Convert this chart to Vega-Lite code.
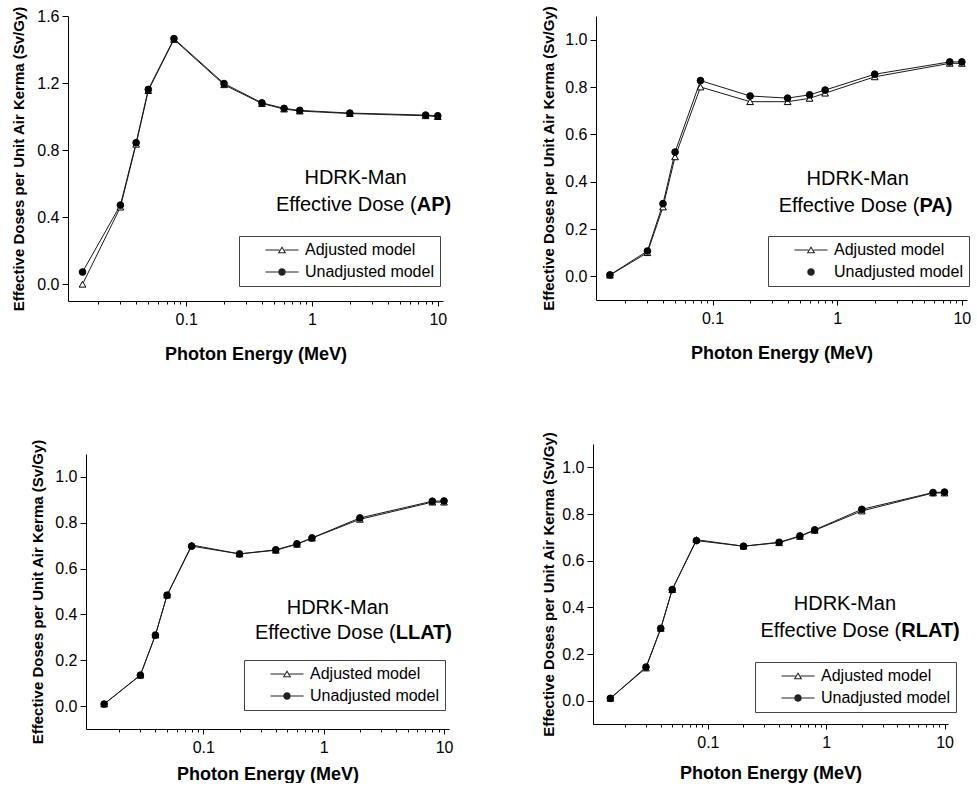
{
  "$schema": "https://vega.github.io/schema/vega-lite/v6.json",
  "padding": {"left": 11, "top": 5, "right": 0, "bottom": 0},
  "config": {
    "view": {"stroke": null},
    "font": "Liberation Sans",
    "axis": {"domainColor": "black", "tickColor": "black", "labelColor": "black", "titleColor": "black", "grid": false, "labelFont": "Liberation Sans", "titleFont": "Liberation Sans", "labelFontSize": 16, "domainWidth": 1, "tickWidth": 1},
    "legend": {"orient": "none", "title": null, "strokeColor": "#444", "padding": 6, "labelFontSize": 16, "labelFont": "Liberation Sans", "labelColor": "black", "symbolSize": 100, "symbolStrokeWidth": 0, "symbolOpacity": 1, "labelOffset": 15, "symbolOffset": 29, "rowPadding": 6},
    "text": {"font": "Liberation Sans", "color": "black"}
  },
  "datasets": {
    "ap": [
      {"energy": 0.015, "series": "Adjusted model", "dose": 0.0},
      {"energy": 0.03, "series": "Adjusted model", "dose": 0.46},
      {"energy": 0.04, "series": "Adjusted model", "dose": 0.835},
      {"energy": 0.05, "series": "Adjusted model", "dose": 1.155},
      {"energy": 0.08, "series": "Adjusted model", "dose": 1.46},
      {"energy": 0.2, "series": "Adjusted model", "dose": 1.19},
      {"energy": 0.4, "series": "Adjusted model", "dose": 1.078},
      {"energy": 0.6, "series": "Adjusted model", "dose": 1.045},
      {"energy": 0.8, "series": "Adjusted model", "dose": 1.033},
      {"energy": 2, "series": "Adjusted model", "dose": 1.018},
      {"energy": 8, "series": "Adjusted model", "dose": 1.005},
      {"energy": 10, "series": "Adjusted model", "dose": 1.0},
      {"energy": 0.015, "series": "Unadjusted model", "dose": 0.073},
      {"energy": 0.03, "series": "Unadjusted model", "dose": 0.472},
      {"energy": 0.04, "series": "Unadjusted model", "dose": 0.844},
      {"energy": 0.05, "series": "Unadjusted model", "dose": 1.162},
      {"energy": 0.08, "series": "Unadjusted model", "dose": 1.465},
      {"energy": 0.2, "series": "Unadjusted model", "dose": 1.197},
      {"energy": 0.4, "series": "Unadjusted model", "dose": 1.082},
      {"energy": 0.6, "series": "Unadjusted model", "dose": 1.049},
      {"energy": 0.8, "series": "Unadjusted model", "dose": 1.037},
      {"energy": 2, "series": "Unadjusted model", "dose": 1.021},
      {"energy": 8, "series": "Unadjusted model", "dose": 1.009},
      {"energy": 10, "series": "Unadjusted model", "dose": 1.005}
    ],
    "pa": [
      {"energy": 0.015, "series": "Adjusted model", "dose": 0.005},
      {"energy": 0.03, "series": "Adjusted model", "dose": 0.1},
      {"energy": 0.04, "series": "Adjusted model", "dose": 0.293},
      {"energy": 0.05, "series": "Adjusted model", "dose": 0.505},
      {"energy": 0.08, "series": "Adjusted model", "dose": 0.8},
      {"energy": 0.2, "series": "Adjusted model", "dose": 0.738},
      {"energy": 0.4, "series": "Adjusted model", "dose": 0.738},
      {"energy": 0.6, "series": "Adjusted model", "dose": 0.752},
      {"energy": 0.8, "series": "Adjusted model", "dose": 0.774},
      {"energy": 2, "series": "Adjusted model", "dose": 0.843},
      {"energy": 8, "series": "Adjusted model", "dose": 0.9},
      {"energy": 10, "series": "Adjusted model", "dose": 0.9},
      {"energy": 0.015, "series": "Unadjusted model", "dose": 0.006},
      {"energy": 0.03, "series": "Unadjusted model", "dose": 0.107},
      {"energy": 0.04, "series": "Unadjusted model", "dose": 0.307},
      {"energy": 0.05, "series": "Unadjusted model", "dose": 0.525},
      {"energy": 0.08, "series": "Unadjusted model", "dose": 0.827},
      {"energy": 0.2, "series": "Unadjusted model", "dose": 0.762},
      {"energy": 0.4, "series": "Unadjusted model", "dose": 0.753},
      {"energy": 0.6, "series": "Unadjusted model", "dose": 0.767},
      {"energy": 0.8, "series": "Unadjusted model", "dose": 0.787},
      {"energy": 2, "series": "Unadjusted model", "dose": 0.854},
      {"energy": 8, "series": "Unadjusted model", "dose": 0.906},
      {"energy": 10, "series": "Unadjusted model", "dose": 0.906}
    ],
    "llat": [
      {"energy": 0.015, "series": "Adjusted model", "dose": 0.009},
      {"energy": 0.03, "series": "Adjusted model", "dose": 0.135},
      {"energy": 0.04, "series": "Adjusted model", "dose": 0.31},
      {"energy": 0.05, "series": "Adjusted model", "dose": 0.484},
      {"energy": 0.08, "series": "Adjusted model", "dose": 0.703},
      {"energy": 0.2, "series": "Adjusted model", "dose": 0.664},
      {"energy": 0.4, "series": "Adjusted model", "dose": 0.68},
      {"energy": 0.6, "series": "Adjusted model", "dose": 0.706},
      {"energy": 0.8, "series": "Adjusted model", "dose": 0.733},
      {"energy": 2, "series": "Adjusted model", "dose": 0.815},
      {"energy": 8, "series": "Adjusted model", "dose": 0.89},
      {"energy": 10, "series": "Adjusted model", "dose": 0.89},
      {"energy": 0.015, "series": "Unadjusted model", "dose": 0.009},
      {"energy": 0.03, "series": "Unadjusted model", "dose": 0.135},
      {"energy": 0.04, "series": "Unadjusted model", "dose": 0.31},
      {"energy": 0.05, "series": "Unadjusted model", "dose": 0.484},
      {"energy": 0.08, "series": "Unadjusted model", "dose": 0.698},
      {"energy": 0.2, "series": "Unadjusted model", "dose": 0.664},
      {"energy": 0.4, "series": "Unadjusted model", "dose": 0.682},
      {"energy": 0.6, "series": "Unadjusted model", "dose": 0.708},
      {"energy": 0.8, "series": "Unadjusted model", "dose": 0.734},
      {"energy": 2, "series": "Unadjusted model", "dose": 0.821},
      {"energy": 8, "series": "Unadjusted model", "dose": 0.894},
      {"energy": 10, "series": "Unadjusted model", "dose": 0.895}
    ],
    "rlat": [
      {"energy": 0.015, "series": "Adjusted model", "dose": 0.01},
      {"energy": 0.03, "series": "Adjusted model", "dose": 0.14},
      {"energy": 0.04, "series": "Adjusted model", "dose": 0.31},
      {"energy": 0.05, "series": "Adjusted model", "dose": 0.476},
      {"energy": 0.08, "series": "Adjusted model", "dose": 0.69},
      {"energy": 0.2, "series": "Adjusted model", "dose": 0.662},
      {"energy": 0.4, "series": "Adjusted model", "dose": 0.677},
      {"energy": 0.6, "series": "Adjusted model", "dose": 0.704},
      {"energy": 0.8, "series": "Adjusted model", "dose": 0.73},
      {"energy": 2, "series": "Adjusted model", "dose": 0.813},
      {"energy": 8, "series": "Adjusted model", "dose": 0.89},
      {"energy": 10, "series": "Adjusted model", "dose": 0.89},
      {"energy": 0.015, "series": "Unadjusted model", "dose": 0.01},
      {"energy": 0.03, "series": "Unadjusted model", "dose": 0.144},
      {"energy": 0.04, "series": "Unadjusted model", "dose": 0.31},
      {"energy": 0.05, "series": "Unadjusted model", "dose": 0.476},
      {"energy": 0.08, "series": "Unadjusted model", "dose": 0.686},
      {"energy": 0.2, "series": "Unadjusted model", "dose": 0.662},
      {"energy": 0.4, "series": "Unadjusted model", "dose": 0.679},
      {"energy": 0.6, "series": "Unadjusted model", "dose": 0.706},
      {"energy": 0.8, "series": "Unadjusted model", "dose": 0.732},
      {"energy": 2, "series": "Unadjusted model", "dose": 0.82},
      {"energy": 8, "series": "Unadjusted model", "dose": 0.892},
      {"energy": 10, "series": "Unadjusted model", "dose": 0.894}
    ]
  },
  "resolve": {"scale": {"shape": "independent", "fill": "independent"}, "legend": {"shape": "independent", "fill": "independent"}},
  "columns": 2,
  "align": {"row": "each", "column": "none"},
  "spacing": {"row": 68, "column": 80},
  "concat": [
    {
      "width": 375, "height": 285,
      "data": {"name": "ap"},
      "resolve": {"scale": {"shape": "independent"}, "legend": {"shape": "independent"}},
      "layer": [
        {"mark": {"type": "line", "stroke": "#1a1a1a", "strokeWidth": 1},
         "encoding": {
           "x": {"field": "energy", "type": "quantitative", "scale": {"type": "log", "domain": [0.0115, 11], "nice": false},
             "axis": {"title": "Photon Energy (MeV)", "titleFontSize": 18, "titleFontWeight": "bold", "titlePadding": 18, "labelPadding": 5, "labelFlush": false, "labelOverlap": false,
               "values": [0.02,0.03,0.04,0.05,0.06,0.07,0.08,0.09,0.1,0.2,0.3,0.4,0.5,0.6,0.7,0.8,0.9,1,2,3,4,5,6,7,8,9,10],
               "labelExpr": "datum.value==0.1 ? '0.1' : datum.value==1 ? '1' : datum.value==10 ? '10' : ''",
               "tickSize": {"condition": {"test": "datum.value==0.1||datum.value==1||datum.value==10", "value": 5}, "value": 3}}},
           "y": {"field": "dose", "type": "quantitative", "scale": {"domain": [-0.1, 1.6], "nice": false, "zero": false},
             "axis": {"title": "Effective Doses per Unit Air Kerma (Sv/Gy)", "titleFontSize": 15, "titleFontWeight": "bold", "titlePadding": 10, "labelPadding": 3, "labelOverlap": false,
               "values": [0,0.1,0.2,0.3,0.4,0.5,0.6,0.7,0.8,0.9,1.0,1.1,1.2,1.3,1.4,1.5,1.6],
               "labelExpr": "round(datum.value*10)%2==0 ? format(datum.value,'.1f') : ''",
               "tickSize": {"condition": {"test": "round(datum.value*10)%2==0", "value": 6}, "value": 3}}},
           "detail": {"field": "series"}}},
        {"mark": {"type": "point", "filled": true, "size": 45, "stroke": "black", "strokeWidth": 1, "opacity": 1},
         "encoding": {
           "x": {"field": "energy", "type": "quantitative"},
           "y": {"field": "dose", "type": "quantitative"},
           "shape": {"field": "series", "type": "nominal", "scale": {"domain": ["Adjusted model", "Unadjusted model"], "range": ["triangle-up", "circle"]}, "legend": null},
           "fill": {"field": "series", "type": "nominal", "scale": {"domain": ["Adjusted model", "Unadjusted model"], "range": ["white", "black"]}, "legend": null}}},
        {"mark": {"type": "point", "filled": true, "size": 100, "color": "#222", "opacity": 0},
         "encoding": {
           "x": {"field": "energy", "type": "quantitative"},
           "y": {"field": "dose", "type": "quantitative"},
           "shape": {"field": "series", "type": "nominal", "scale": {"domain": ["Adjusted model", "Unadjusted model"], "range": [
             "M-3.3,-0.1H-0.5V0.1H-3.3Z M0.5,-0.1H3.3V0.1H0.5Z M0,-0.75L0.85,0.65L-0.85,0.65Z M0,-0.365L-0.495,0.45L0.495,0.45Z",
             "M-3.3,-0.1H-0.72V0.1H-3.3Z M0.72,-0.1H3.3V0.1H0.72Z M-0.75,0A0.75,0.75 0 1,0 0.75,0A0.75,0.75 0 1,0 -0.75,0Z"]},
             "legend": {"legendX": 171, "legendY": 220}}}},
        {"data": {"values": [{"label": "HDRK-Man"}]},
         "mark": {"type": "text", "fontSize": 20, "align": "center", "baseline": "alphabetic"},
         "encoding": {"x": {"datum": 2.22, "type": "quantitative"}, "y": {"datum": 0.597, "type": "quantitative"}, "text": {"field": "label"}}},
        {"data": {"values": [{"label": "Effective Dose ("}]},
         "mark": {"type": "text", "fontSize": 20, "align": "right", "baseline": "alphabetic"},
         "encoding": {"x": {"datum": 6.8, "type": "quantitative"}, "y": {"datum": 0.436, "type": "quantitative"}, "text": {"field": "label"}}},
        {"data": {"values": [{"label": "AP)"}]},
         "mark": {"type": "text", "fontSize": 20, "align": "left", "baseline": "alphabetic", "fontWeight": "bold"},
         "encoding": {"x": {"datum": 6.8, "type": "quantitative"}, "y": {"datum": 0.436, "type": "quantitative"}, "text": {"field": "label"}}}
      ]
    },
    {
      "width": 375, "height": 284,
      "data": {"name": "pa"},
      "resolve": {"scale": {"shape": "independent"}, "legend": {"shape": "independent"}},
      "layer": [
        {"mark": {"type": "line", "stroke": "#1a1a1a", "strokeWidth": 1},
         "encoding": {
           "x": {"field": "energy", "type": "quantitative", "scale": {"type": "log", "domain": [0.0116, 11], "nice": false, "range": [4, 375]},
             "axis": {"title": "Photon Energy (MeV)", "titleFontSize": 18, "titleFontWeight": "bold", "titlePadding": 18, "labelPadding": 5, "labelFlush": false, "labelOverlap": false,
               "values": [0.02,0.03,0.04,0.05,0.06,0.07,0.08,0.09,0.1,0.2,0.3,0.4,0.5,0.6,0.7,0.8,0.9,1,2,3,4,5,6,7,8,9,10],
               "labelExpr": "datum.value==0.1 ? '0.1' : datum.value==1 ? '1' : datum.value==10 ? '10' : ''",
               "tickSize": {"condition": {"test": "datum.value==0.1||datum.value==1||datum.value==10", "value": 5}, "value": 3}}},
           "y": {"field": "dose", "type": "quantitative", "scale": {"domain": [-0.1, 1.1], "nice": false, "zero": false},
             "axis": {"title": "Effective Doses per Unit Air Kerma (Sv/Gy)", "titleFontSize": 15, "titleFontWeight": "bold", "titlePadding": 8, "labelPadding": 3, "labelOverlap": false, "offset": -4,
               "values": [0,0.1,0.2,0.3,0.4,0.5,0.6,0.7,0.8,0.9,1.0,1.1],
               "labelExpr": "round(datum.value*10)%2==0 ? format(datum.value,'.1f') : ''",
               "tickSize": {"condition": {"test": "round(datum.value*10)%2==0", "value": 6}, "value": 3}}},
           "detail": {"field": "series"}}},
        {"mark": {"type": "point", "filled": true, "size": 45, "stroke": "black", "strokeWidth": 1, "opacity": 1},
         "encoding": {
           "x": {"field": "energy", "type": "quantitative"},
           "y": {"field": "dose", "type": "quantitative"},
           "shape": {"field": "series", "type": "nominal", "scale": {"domain": ["Adjusted model", "Unadjusted model"], "range": ["triangle-up", "circle"]}, "legend": null},
           "fill": {"field": "series", "type": "nominal", "scale": {"domain": ["Adjusted model", "Unadjusted model"], "range": ["white", "black"]}, "legend": null}}},
        {"mark": {"type": "point", "filled": true, "size": 100, "color": "#222", "opacity": 0},
         "encoding": {
           "x": {"field": "energy", "type": "quantitative"},
           "y": {"field": "dose", "type": "quantitative"},
           "shape": {"field": "series", "type": "nominal", "scale": {"domain": ["Adjusted model", "Unadjusted model"], "range": [
             "M-3.3,-0.1H-0.5V0.1H-3.3Z M0.5,-0.1H3.3V0.1H0.5Z M0,-0.75L0.85,0.65L-0.85,0.65Z M0,-0.365L-0.495,0.45L0.495,0.45Z",
             "M-0.75,0A0.75,0.75 0 1,0 0.75,0A0.75,0.75 0 1,0 -0.75,0Z"]},
             "legend": {"legendX": 176, "legendY": 220}}}},
        {"data": {"values": [{"label": "HDRK-Man"}]},
         "mark": {"type": "text", "fontSize": 20, "align": "center", "baseline": "alphabetic"},
         "encoding": {"x": {"datum": 1.461, "type": "quantitative"}, "y": {"datum": 0.387, "type": "quantitative"}, "text": {"field": "label"}}},
        {"data": {"values": [{"label": "Effective Dose ("}]},
         "mark": {"type": "text", "fontSize": 20, "align": "right", "baseline": "alphabetic"},
         "encoding": {"x": {"datum": 4.57, "type": "quantitative"}, "y": {"datum": 0.272, "type": "quantitative"}, "text": {"field": "label"}}},
        {"data": {"values": [{"label": "PA)"}]},
         "mark": {"type": "text", "fontSize": 20, "align": "left", "baseline": "alphabetic", "fontWeight": "bold"},
         "encoding": {"x": {"datum": 4.57, "type": "quantitative"}, "y": {"datum": 0.272, "type": "quantitative"}, "text": {"field": "label"}}}
      ]
    },
    {
      "width": 381, "height": 285,
      "data": {"name": "llat"},
      "resolve": {"scale": {"shape": "independent"}, "legend": {"shape": "independent"}},
      "layer": [
        {"mark": {"type": "line", "stroke": "#1a1a1a", "strokeWidth": 1},
         "encoding": {
           "x": {"field": "energy", "type": "quantitative", "scale": {"type": "log", "domain": [0.0106, 11], "nice": false, "range": [18, 381]},
             "axis": {"title": "Photon Energy (MeV)", "titleFontSize": 18, "titleFontWeight": "bold", "titlePadding": 10, "labelPadding": 5, "labelFlush": false, "labelOverlap": false,
               "values": [0.02,0.03,0.04,0.05,0.06,0.07,0.08,0.09,0.1,0.2,0.3,0.4,0.5,0.6,0.7,0.8,0.9,1,2,3,4,5,6,7,8,9,10],
               "labelExpr": "datum.value==0.1 ? '0.1' : datum.value==1 ? '1' : datum.value==10 ? '10' : ''",
               "tickSize": {"condition": {"test": "datum.value==0.1||datum.value==1||datum.value==10", "value": 5}, "value": 3}}},
           "y": {"field": "dose", "type": "quantitative", "scale": {"domain": [-0.1, 1.1], "nice": false, "zero": false, "range": [285, 10]},
             "axis": {"title": "Effective Doses per Unit Air Kerma (Sv/Gy)", "titleFontSize": 15, "titleFontWeight": "bold", "titlePadding": 9, "labelPadding": 3, "labelOverlap": false, "offset": -18,
               "values": [0,0.1,0.2,0.3,0.4,0.5,0.6,0.7,0.8,0.9,1.0,1.1],
               "labelExpr": "round(datum.value*10)%2==0 ? format(datum.value,'.1f') : ''",
               "tickSize": {"condition": {"test": "round(datum.value*10)%2==0", "value": 6}, "value": 3}}},
           "detail": {"field": "series"}}},
        {"mark": {"type": "point", "filled": true, "size": 45, "stroke": "black", "strokeWidth": 1, "opacity": 1},
         "encoding": {
           "x": {"field": "energy", "type": "quantitative"},
           "y": {"field": "dose", "type": "quantitative"},
           "shape": {"field": "series", "type": "nominal", "scale": {"domain": ["Adjusted model", "Unadjusted model"], "range": ["triangle-up", "circle"]}, "legend": null},
           "fill": {"field": "series", "type": "nominal", "scale": {"domain": ["Adjusted model", "Unadjusted model"], "range": ["white", "black"]}, "legend": null}}},
        {"mark": {"type": "point", "filled": true, "size": 100, "color": "#222", "opacity": 0},
         "encoding": {
           "x": {"field": "energy", "type": "quantitative"},
           "y": {"field": "dose", "type": "quantitative"},
           "shape": {"field": "series", "type": "nominal", "scale": {"domain": ["Adjusted model", "Unadjusted model"], "range": [
             "M-3.3,-0.1H-0.5V0.1H-3.3Z M0.5,-0.1H3.3V0.1H0.5Z M0,-0.75L0.85,0.65L-0.85,0.65Z M0,-0.365L-0.495,0.45L0.495,0.45Z",
             "M-3.3,-0.1H-0.72V0.1H-3.3Z M0.72,-0.1H3.3V0.1H0.72Z M-0.75,0A0.75,0.75 0 1,0 0.75,0A0.75,0.75 0 1,0 -0.75,0Z"]},
             "legend": {"legendX": 176, "legendY": 216}}}},
        {"data": {"values": [{"label": "HDRK-Man"}]},
         "mark": {"type": "text", "fontSize": 20, "align": "center", "baseline": "alphabetic"},
         "encoding": {"x": {"datum": 1.312, "type": "quantitative"}, "y": {"datum": 0.403, "type": "quantitative"}, "text": {"field": "label"}}},
        {"data": {"values": [{"label": "Effective Dose ("}]},
         "mark": {"type": "text", "fontSize": 20, "align": "right", "baseline": "alphabetic"},
         "encoding": {"x": {"datum": 3.97, "type": "quantitative"}, "y": {"datum": 0.294, "type": "quantitative"}, "text": {"field": "label"}}},
        {"data": {"values": [{"label": "LLAT)"}]},
         "mark": {"type": "text", "fontSize": 20, "align": "left", "baseline": "alphabetic", "fontWeight": "bold"},
         "encoding": {"x": {"datum": 3.97, "type": "quantitative"}, "y": {"datum": 0.294, "type": "quantitative"}, "text": {"field": "label"}}}
      ]
    },
    {
      "width": 355, "height": 280,
      "data": {"name": "rlat"},
      "resolve": {"scale": {"shape": "independent"}, "legend": {"shape": "independent"}},
      "layer": [
        {"mark": {"type": "line", "stroke": "#1a1a1a", "strokeWidth": 1},
         "encoding": {
           "x": {"field": "energy", "type": "quantitative", "scale": {"type": "log", "domain": [0.0107, 10.7], "nice": false},
             "axis": {"title": "Photon Energy (MeV)", "titleFontSize": 18, "titleFontWeight": "bold", "titlePadding": 14, "labelPadding": 5, "labelFlush": false, "labelOverlap": false,
               "values": [0.02,0.03,0.04,0.05,0.06,0.07,0.08,0.09,0.1,0.2,0.3,0.4,0.5,0.6,0.7,0.8,0.9,1,2,3,4,5,6,7,8,9,10],
               "labelExpr": "datum.value==0.1 ? '0.1' : datum.value==1 ? '1' : datum.value==10 ? '10' : ''",
               "tickSize": {"condition": {"test": "datum.value==0.1||datum.value==1||datum.value==10", "value": 5}, "value": 3}}},
           "y": {"field": "dose", "type": "quantitative", "scale": {"domain": [-0.1, 1.1], "nice": false, "zero": false},
             "axis": {"title": "Effective Doses per Unit Air Kerma (Sv/Gy)", "titleFontSize": 15, "titleFontWeight": "bold", "titlePadding": 5, "labelPadding": 3, "labelOverlap": false,
               "values": [0,0.1,0.2,0.3,0.4,0.5,0.6,0.7,0.8,0.9,1.0,1.1],
               "labelExpr": "round(datum.value*10)%2==0 ? format(datum.value,'.1f') : ''",
               "tickSize": {"condition": {"test": "round(datum.value*10)%2==0", "value": 6}, "value": 3}}},
           "detail": {"field": "series"}}},
        {"mark": {"type": "point", "filled": true, "size": 45, "stroke": "black", "strokeWidth": 1, "opacity": 1},
         "encoding": {
           "x": {"field": "energy", "type": "quantitative"},
           "y": {"field": "dose", "type": "quantitative"},
           "shape": {"field": "series", "type": "nominal", "scale": {"domain": ["Adjusted model", "Unadjusted model"], "range": ["triangle-up", "circle"]}, "legend": null},
           "fill": {"field": "series", "type": "nominal", "scale": {"domain": ["Adjusted model", "Unadjusted model"], "range": ["white", "black"]}, "legend": null}}},
        {"mark": {"type": "point", "filled": true, "size": 100, "color": "#222", "opacity": 0},
         "encoding": {
           "x": {"field": "energy", "type": "quantitative"},
           "y": {"field": "dose", "type": "quantitative"},
           "shape": {"field": "series", "type": "nominal", "scale": {"domain": ["Adjusted model", "Unadjusted model"], "range": [
             "M-3.3,-0.1H-0.5V0.1H-3.3Z M0.5,-0.1H3.3V0.1H0.5Z M0,-0.75L0.85,0.65L-0.85,0.65Z M0,-0.365L-0.495,0.45L0.495,0.45Z",
             "M-3.3,-0.1H-0.72V0.1H-3.3Z M0.72,-0.1H3.3V0.1H0.72Z M-0.75,0A0.75,0.75 0 1,0 0.75,0A0.75,0.75 0 1,0 -0.75,0Z"]},
             "legend": {"legendX": 162, "legendY": 218}}}},
        {"data": {"values": [{"label": "HDRK-Man"}]},
         "mark": {"type": "text", "fontSize": 20, "align": "center", "baseline": "alphabetic"},
         "encoding": {"x": {"datum": 1.439, "type": "quantitative"}, "y": {"datum": 0.389, "type": "quantitative"}, "text": {"field": "label"}}},
        {"data": {"values": [{"label": "Effective Dose ("}]},
         "mark": {"type": "text", "fontSize": 20, "align": "right", "baseline": "alphabetic"},
         "encoding": {"x": {"datum": 4.31, "type": "quantitative"}, "y": {"datum": 0.275, "type": "quantitative"}, "text": {"field": "label"}}},
        {"data": {"values": [{"label": "RLAT)"}]},
         "mark": {"type": "text", "fontSize": 20, "align": "left", "baseline": "alphabetic", "fontWeight": "bold"},
         "encoding": {"x": {"datum": 4.31, "type": "quantitative"}, "y": {"datum": 0.275, "type": "quantitative"}, "text": {"field": "label"}}}
      ]
    }
  ]
}
